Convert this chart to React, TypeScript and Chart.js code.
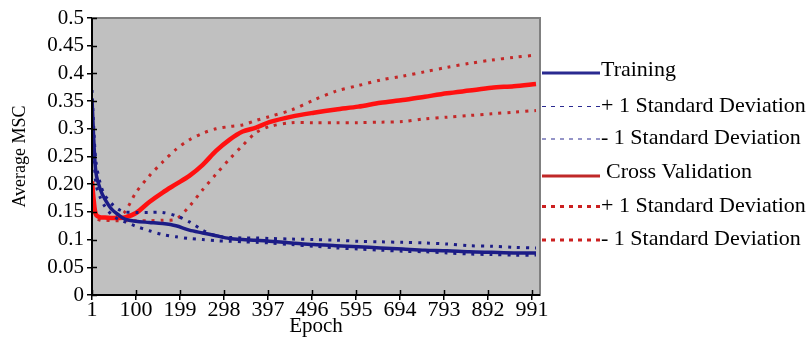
import React, { useEffect, useRef } from "react";
import { Chart, registerables } from "chart.js";

Chart.register(...registerables);

const epochs = [1, 5, 10, 20, 30, 45, 60, 75, 100, 130, 160, 190, 220, 250, 280, 310, 340, 370, 400, 450, 500, 550, 600, 650, 700, 750, 800, 850, 900, 950, 1000];

const training = [0.355, 0.28, 0.22, 0.19, 0.173, 0.155, 0.145, 0.137, 0.133, 0.131, 0.129, 0.125, 0.117, 0.112, 0.107, 0.102, 0.1, 0.099, 0.097, 0.094, 0.091, 0.089, 0.087, 0.085, 0.083, 0.081, 0.08, 0.078, 0.077, 0.076, 0.076];
const trainingPlus = [0.37, 0.3, 0.24, 0.2, 0.18, 0.165, 0.155, 0.15, 0.149, 0.149, 0.149, 0.143, 0.132, 0.117, 0.107, 0.104, 0.103, 0.103, 0.102, 0.101, 0.1, 0.099, 0.097, 0.096, 0.095, 0.094, 0.092, 0.089, 0.088, 0.086, 0.085];
const trainingMinus = [0.34, 0.26, 0.2, 0.175, 0.16, 0.145, 0.137, 0.132, 0.124, 0.116, 0.109, 0.105, 0.102, 0.1, 0.098, 0.097, 0.096, 0.095, 0.094, 0.091, 0.088, 0.085, 0.083, 0.081, 0.079, 0.078, 0.076, 0.074, 0.073, 0.072, 0.072];
const crossVal = [0.205, 0.17, 0.145, 0.14, 0.14, 0.139, 0.139, 0.14, 0.148, 0.168, 0.185, 0.2, 0.215, 0.235, 0.26, 0.28, 0.295, 0.302, 0.312, 0.322, 0.329, 0.335, 0.34, 0.347, 0.352, 0.358, 0.364, 0.369, 0.374, 0.377, 0.381];
const crossValPlus = [0.205, 0.17, 0.145, 0.14, 0.14, 0.14, 0.142, 0.15, 0.185, 0.215, 0.24, 0.263, 0.28, 0.292, 0.3, 0.304, 0.307, 0.315, 0.322, 0.334, 0.352, 0.368, 0.378, 0.388, 0.395, 0.403, 0.411, 0.418, 0.424, 0.429, 0.433];
const crossValMinus = [0.2, 0.165, 0.14, 0.135, 0.135, 0.134, 0.134, 0.134, 0.134, 0.134, 0.135, 0.137, 0.16, 0.19, 0.218, 0.245, 0.27, 0.293, 0.304, 0.311, 0.311, 0.311, 0.311, 0.312, 0.313, 0.318, 0.321, 0.324, 0.327, 0.33, 0.333];

const seriesLabels = [
  "Training",
  "+ 1 Standard Deviation",
  "- 1 Standard Deviation",
  "Cross Validation",
  "+ 1 Standard Deviation",
  "- 1 Standard Deviation",
];

const xTickValues = [1, 100, 199, 298, 397, 496, 595, 694, 793, 892, 991];
const yTickLabels = ["0", "0.05", "0.1", "0.15", "0.20", "0.25", "0.3", "0.35", "0.4", "0.45", "0.5"];

const FONT = "'Liberation Serif', 'Times New Roman', serif";
const BLUE = "#1c1c86";
const RED = "#ff1010";
const RED_DOT = "#c42828";

const toPts = (vals: number[]) => vals.map((v, i) => ({ x: epochs[i], y: v }));

const legendStyles = [
  { color: "#2a2a90", width: 3, dash: [] as number[] },
  { color: "#2a2a90", width: 1, dash: [4, 5] },
  { color: "#2a2a90", width: 1, dash: [4, 5] },
  { color: "#c02828", width: 3, dash: [] as number[] },
  { color: "#cc2020", width: 3, dash: [4, 5] },
  { color: "#cc2020", width: 3, dash: [4, 5] },
];
const legendTextY = [70, 106, 138, 172, 206, 239];
const legendLineY = [73, 106.5, 139, 176, 206.5, 240];

const plotDeco = {
  id: "plotDeco",
  beforeDatasetsDraw(chart: any) {
    const { ctx, chartArea } = chart;
    ctx.save();
    ctx.fillStyle = "#c0c0c0";
    ctx.fillRect(chartArea.left, chartArea.top, chartArea.right - chartArea.left, chartArea.bottom - chartArea.top);
    ctx.restore();
  },
  afterDraw(chart: any) {
    const { ctx, chartArea } = chart;
    const { left, right, top, bottom } = chartArea;
    const xs = chart.scales.x;
    const ys = chart.scales.y;
    ctx.save();
    ctx.strokeStyle = "#808080";
    ctx.lineWidth = 2;
    ctx.beginPath();
    ctx.moveTo(left, top);
    ctx.lineTo(right, top);
    ctx.lineTo(right, bottom);
    ctx.stroke();
    ctx.strokeStyle = "#000";
    ctx.lineWidth = 1.5;
    ctx.beginPath();
    ys.ticks.forEach((t: any) => {
      const py = Math.round(ys.getPixelForValue(t.value)) + 0.5;
      ctx.moveTo(left, py);
      ctx.lineTo(left + 5, py);
    });
    xs.ticks.forEach((t: any) => {
      const px = Math.round(xs.getPixelForValue(t.value)) + 0.5;
      ctx.moveTo(px, bottom);
      ctx.lineTo(px, bottom - 5);
    });
    ctx.stroke();
    ctx.strokeStyle = "#000";
    ctx.lineWidth = 2;
    ctx.beginPath();
    ctx.moveTo(left, top);
    ctx.lineTo(left, bottom);
    ctx.lineTo(right, bottom);
    ctx.stroke();

    // legend
    ctx.font = `22px ${FONT}`;
    ctx.textBaseline = "middle";
    ctx.textAlign = "left";
    chart.data.datasets.forEach((ds: any, i: number) => {
      const st = legendStyles[i];
      ctx.strokeStyle = st.color;
      ctx.lineWidth = st.width;
      ctx.setLineDash(st.dash);
      ctx.beginPath();
      ctx.moveTo(542, legendLineY[i]);
      ctx.lineTo(600, legendLineY[i]);
      ctx.stroke();
      ctx.setLineDash([]);
      ctx.fillStyle = "#000";
      ctx.fillText(ds.label, i === 3 ? 606 : 601, legendTextY[i]);
    });
    ctx.restore();
  },
};

export default function App() {
  const ref = useRef<HTMLCanvasElement | null>(null);
  useEffect(() => {
    if (!ref.current) return;
    const mk = (i: number, data: number[], color: string, width: number, dash: number[]) => ({
      label: seriesLabels[i],
      data: toPts(data),
      borderColor: color,
      backgroundColor: color,
      borderWidth: width,
      borderDash: dash,
      pointRadius: 0,
      tension: 0.3,
      fill: false,
    });
    const chart = new Chart(ref.current, {
      type: "line",
      data: {
        datasets: [
          mk(0, training, BLUE, 3.5, []),
          mk(1, trainingPlus, BLUE, 3, [3, 6]),
          mk(2, trainingMinus, BLUE, 3, [3, 6]),
          mk(3, crossVal, RED, 4.5, []),
          mk(4, crossValPlus, RED_DOT, 3, [3, 6]),
          mk(5, crossValMinus, RED_DOT, 3, [3, 6]),
        ],
      },
      options: {
        responsive: false,
        animation: false,
        devicePixelRatio: 1,
        layout: { padding: { left: 0, right: 270, top: 18, bottom: 0 } },
        plugins: { legend: { display: false }, tooltip: { enabled: false } },
        scales: {
          x: {
            type: "linear",
            min: 1,
            max: 1009,
            afterBuildTicks: (s: any) => {
              s.ticks = xTickValues.map((v) => ({ value: v }));
            },
            afterFit: (s: any) => {
              s.height = 42;
            },
            grid: { drawOnChartArea: false, color: "#000", lineWidth: 1.5, tickLength: 5 },
            border: { color: "#000", width: 2 },
            ticks: {
              autoSkip: false,
              maxRotation: 0,
              padding: -3,
              color: "#000",
              font: { family: FONT, size: 22 },
              callback: (v: any) => String(v),
            },
            title: {
              display: true,
              text: "Epoch",
              color: "#000",
              font: { family: FONT, size: 21, lineHeight: 1 },
              padding: { top: 0, bottom: 0 },
            },
          },
          y: {
            min: 0,
            max: 0.5,
            afterBuildTicks: (s: any) => {
              s.ticks = yTickLabels.map((_, i) => ({ value: i * 0.05 }));
            },
            afterFit: (s: any) => {
              s.width = 92;
            },
            grid: { drawOnChartArea: false, color: "#000", lineWidth: 1.5, tickLength: 5 },
            border: { color: "#000", width: 2 },
            ticks: {
              autoSkip: false,
              padding: 3,
              color: "#000",
              font: { family: FONT, size: 21 },
              callback: (_v: any, i: number) => yTickLabels[i],
            },
            title: {
              display: true,
              text: "Average MSC",
              color: "#000",
              font: { family: FONT, size: 18 },
              padding: { top: 9, bottom: 0 },
            },
          },
        },
      },
      plugins: [plotDeco],
    });
    return () => chart.destroy();
  }, []);
  return (
    <div style={{ position: "absolute", left: 0, top: 0, width: 810, height: 337, background: "#fff" }}>
      <canvas ref={ref} width={810} height={337} style={{ display: "block" }} />
    </div>
  );
}
